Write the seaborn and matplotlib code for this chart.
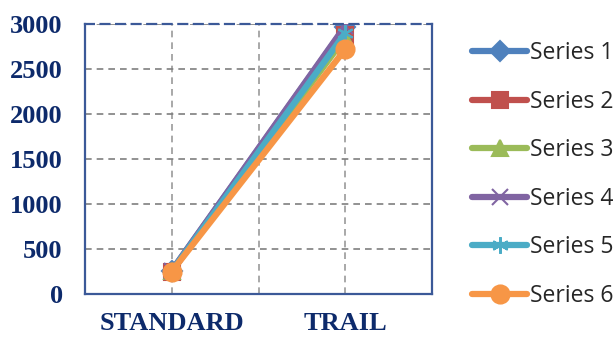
import pandas as pd
import numpy as np
import matplotlib.pyplot as plt
import seaborn as sns

# values
categories = ['STANDARD', 'TRAIL']
series_names = ['Series 1', 'Series 2', 'Series 3', 'Series 4', 'Series 5', 'Series 6']
s1 = [260, 2970]
s2 = [250, 2880]
s3 = [255, 2850]
s4 = [260, 2980]
s5 = [255, 2900]
s6 = [250, 2720]
yticks = [0, 500, 1000, 1500, 2000, 2500, 3000]

colors = ['#4F81BD', '#C0504D', '#9BBB59', '#8064A2', '#4BACC6', '#F79646']
markers = ['D', 's', '^', 'x', (6, 2, 0), 'o']
msizes = [10, 12, 11, 11, 12, 13]

sns.set_style('white')
navy = '#0D2A6B'

fig = plt.figure(figsize=(6.15, 3.38), dpi=100)
ax = fig.add_axes([85 / 615, 44 / 338, 347 / 615, 270 / 338])

rows = []
for name, vals in zip(series_names, [s1, s2, s3, s4, s5, s6]):
    for c, v in zip(categories, vals):
        rows.append({'cat': c, 'val': v, 'series': name})
df = pd.DataFrame(rows)
df['x'] = df['cat'].map({c: i for i, c in enumerate(categories)})

for name, col, mk, ms in zip(series_names, colors, markers, msizes):
    d = df[df['series'] == name]
    sns.lineplot(data=d, x='x', y='val', ax=ax, color=col, marker=mk,
                 markersize=ms, linewidth=4.5, label=name,
                 markeredgecolor=col, markeredgewidth=1.5, solid_capstyle='round')

ax.set_xlim(-0.5, 1.5)
ax.set_ylim(0, 3000)
ax.set_xticks([0, 1])
ax.set_xticks([0.5, 1.5], minor=True)
ax.set_xticklabels(categories)
ax.set_yticks(yticks)
ax.set_xlabel('')
ax.set_ylabel('')

ax.grid(True, which='both', axis='x', color='#9A9A9A', linestyle=(0, (4, 3)), linewidth=1.2)
ax.grid(True, which='major', axis='y', color='#7F7F7F', linestyle=(0, (4, 3)), linewidth=1.2)
ax.set_axisbelow(True)

for side in ['left', 'bottom', 'right']:
    ax.spines[side].set_color('#3B5998')
    ax.spines[side].set_linewidth(1.6)
ax.spines['top'].set_color('#3B5998')
ax.spines['top'].set_linestyle((0, (4, 3)))
ax.spines['top'].set_linewidth(1.6)

ax.tick_params(axis='x', which='both', length=8, color='#E4E4E4', width=1.2, pad=5)
ax.tick_params(axis='y', length=0, pad=16)
for lab in ax.get_xticklabels() + ax.get_yticklabels():
    lab.set_fontfamily('Liberation Serif')
    lab.set_fontweight('bold')
    lab.set_fontsize(19)
    lab.set_color(navy)

leg = ax.legend(loc='center left', bbox_to_anchor=(1.09, 0.443), frameon=False,
                fontsize=16.5, handlelength=2.4, labelspacing=1.07,
                handletextpad=0.1, borderaxespad=0)
for t in leg.get_texts():
    t.set_fontfamily('Open Sans')

fig.savefig('out.png', dpi=100)
